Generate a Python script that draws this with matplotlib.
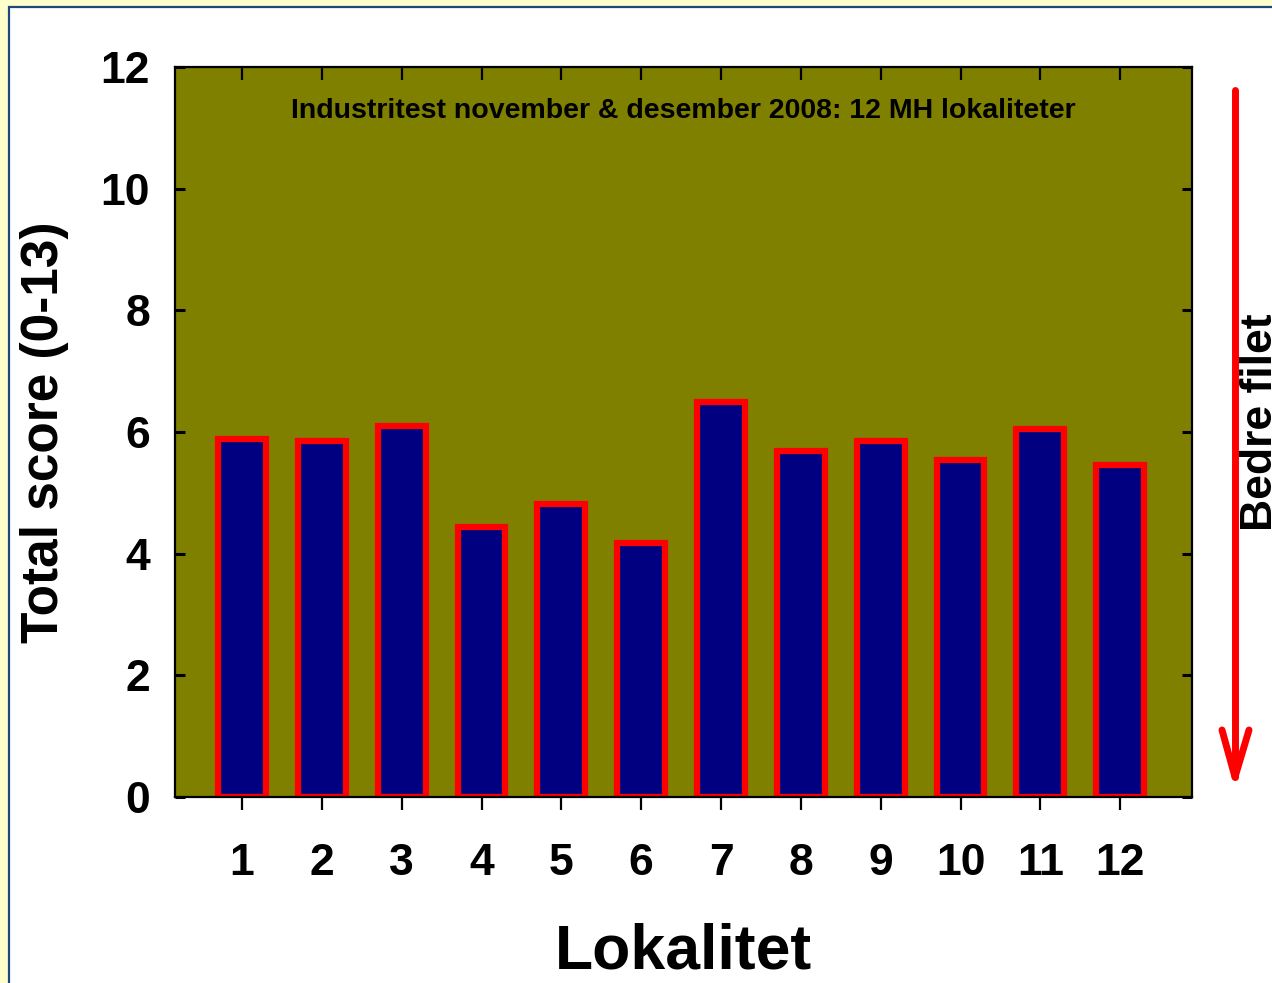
import matplotlib.pyplot as plt
from matplotlib.patches import Rectangle
from matplotlib.lines import Line2D

plt.rcParams['font.family'] = ['Liberation Sans', 'DejaVu Sans']
plt.rcParams['font.weight'] = 'bold'

lokalitet = [1, 2, 3, 4, 5, 6, 7, 8, 9, 10, 11, 12]
score = [5.88, 5.86, 6.10, 4.44, 4.82, 4.18, 6.50, 5.69, 5.85, 5.54, 6.05, 5.45]
tittel = "Industritest november & desember 2008: 12 MH lokaliteter"

fig = plt.figure(figsize=(12.72, 9.83), dpi=100)
fig.patch.set_facecolor('#FFFFCC')

# white panel with dark blue frame
fig.add_artist(Rectangle((9 / 1272, -0.05), 1.05, 1 - 7 / 983 + 0.05,
                         transform=fig.transFigure, facecolor='white',
                         edgecolor='#1F497D', lw=1.6, zorder=0))

ax = fig.add_axes([175 / 1272, 186 / 983, 1017 / 1272, 730 / 983])
ax.set_facecolor('#808000')

ax.bar(lokalitet, score, width=0.6, color='#000080', edgecolor='#FF0000',
       linewidth=4.5, zorder=2)

ax.set_xlim(0.16, 12.9)
ax.set_ylim(0, 12)
ax.set_yticks(range(0, 13, 2))
ax.set_xticks(lokalitet)

for s in ax.spines.values():
    s.set_linewidth(1.6)

ax.tick_params(axis='y', direction='in', length=7, width=2.2, pad=18,
               labelsize=32, right=True)
ax.tick_params(axis='x', direction='out', length=9, width=1.6, pad=24,
               labelsize=32)

top = ax.secondary_xaxis('top')
top.set_xticks(lokalitet)
top.tick_params(direction='in', length=9, width=1.6, labeltop=False)

ax.set_ylabel('Total score (0-13)', fontsize=37, fontweight='bold')
ax.yaxis.set_label_coords(-0.104, 0.5)
ax.set_xlabel('Lokalitet', fontsize=45, fontweight='bold')
ax.xaxis.set_label_coords(0.5, -0.172)

ax.text(0.5, 0.94, tittel, transform=ax.transAxes, ha='center', va='center',
        fontsize=20.5, fontweight='bold')

# arrow to the right of the plot
W, H = 1272, 983
def px(x, y):
    return x / W, 1 - y / H

ax_x = 1235
for (x0, y0), (x1, y1) in [((ax_x, 90), (ax_x, 777)),
                           ((1222, 730), (ax_x, 777)),
                           ((1249, 730), (ax_x, 777))]:
    (fx0, fy0), (fx1, fy1) = px(x0, y0), px(x1, y1)
    fig.add_artist(Line2D([fx0, fx1], [fy0, fy1], transform=fig.transFigure,
                          color='#FF0000', lw=5, solid_capstyle='round'))

fx, fy = px(1240, 422)
fig.text(fx, fy, 'Bedre filet', rotation=90, ha='left', va='center',
         fontsize=32, fontweight='bold')

fig.savefig('out.png', dpi=100, facecolor=fig.get_facecolor())
